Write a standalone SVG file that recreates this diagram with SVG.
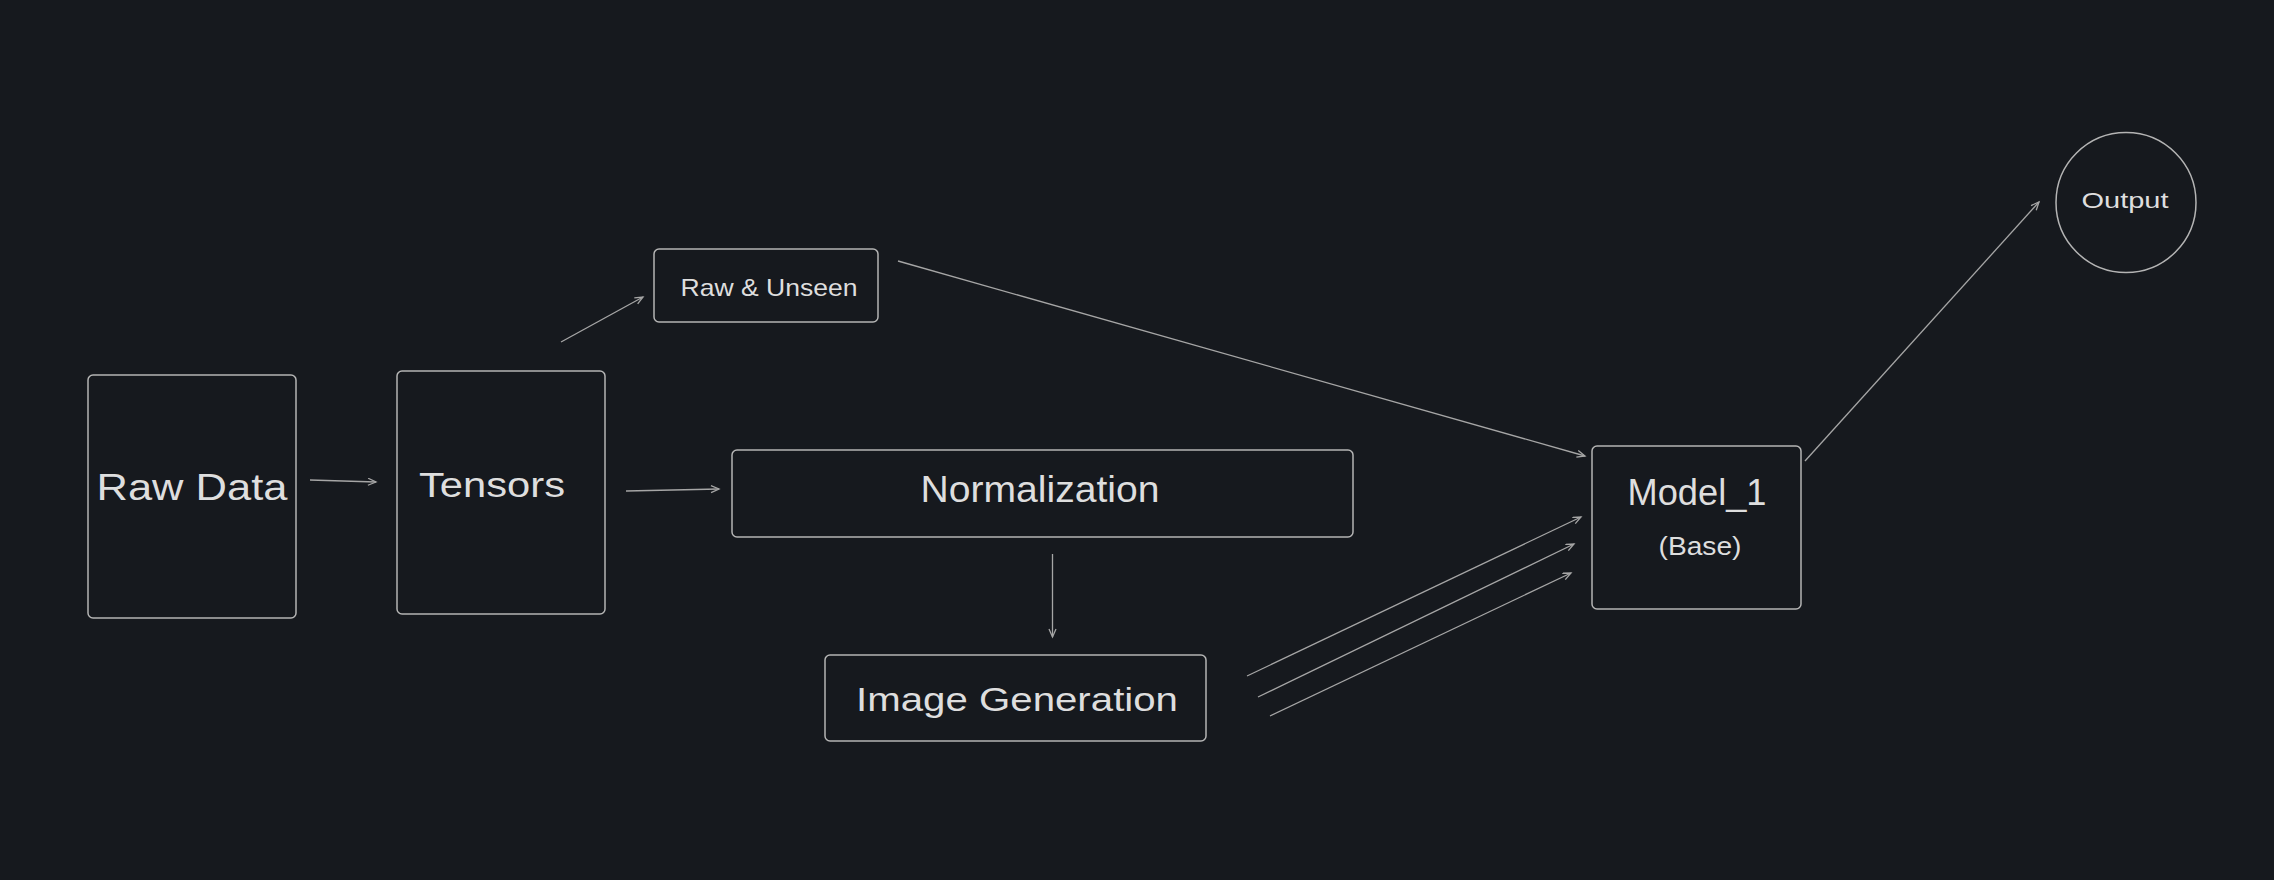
<svg xmlns="http://www.w3.org/2000/svg" width="2274" height="880" viewBox="0 0 2274 880">
<defs>
<style>
.box{fill:none;stroke:#b4b4b4;stroke-width:1.5}
.lbl{fill:#dedede;font-family:"Liberation Sans","DejaVu Sans",sans-serif;text-anchor:middle}
.con{fill:none;stroke:#a6a6a6;stroke-width:1.3}
</style>
<marker id="ah" markerUnits="userSpaceOnUse" markerWidth="12" markerHeight="10" refX="9" refY="4" orient="auto" viewBox="0 0 12 10">
<path d="M1,0.5 L9,4 L1,7.5" fill="none" stroke="#a6a6a6" stroke-width="1.3"/>
</marker>
</defs>
<rect width="2274" height="880" fill="#16191e"/>
<g id="raw-data">
<rect class="box" x="88" y="375" width="208" height="243" rx="5"/>
<text class="lbl" x="192" y="500" font-size="36" textLength="191" lengthAdjust="spacingAndGlyphs">Raw Data</text>
</g>
<g id="tensors">
<rect class="box" x="397" y="371" width="208" height="243" rx="5"/>
<text class="lbl" x="492" y="497" font-size="35" textLength="146" lengthAdjust="spacingAndGlyphs">Tensors</text>
</g>
<g id="raw-unseen">
<rect class="box" x="654" y="249" width="224" height="73" rx="5"/>
<text class="lbl" x="769" y="296" font-size="24" textLength="177" lengthAdjust="spacingAndGlyphs">Raw &amp; Unseen</text>
</g>
<g id="normalization">
<rect class="box" x="732" y="450" width="621" height="87" rx="5"/>
<text class="lbl" x="1040" y="502" font-size="36" textLength="239" lengthAdjust="spacingAndGlyphs">Normalization</text>
</g>
<g id="image-generation">
<rect class="box" x="825" y="655" width="381" height="86" rx="5"/>
<text class="lbl" x="1017" y="711" font-size="34" textLength="322" lengthAdjust="spacingAndGlyphs">Image Generation</text>
</g>
<g id="model-1">
<rect class="box" x="1592" y="446" width="209" height="163" rx="5"/>
<text class="lbl" x="1697" y="505" font-size="36" textLength="139" lengthAdjust="spacingAndGlyphs">Model_1</text>
<text class="lbl" x="1700" y="555" font-size="26" textLength="83" lengthAdjust="spacingAndGlyphs">(Base)</text>
</g>
<g id="output">
<circle class="box" cx="2126" cy="202.5" r="70"/>
<text class="lbl" x="2125" y="208" font-size="22" textLength="87" lengthAdjust="spacingAndGlyphs">Output</text>
</g>
<g id="connectors">
<line class="con" x1="310" y1="480" x2="376" y2="482" marker-end="url(#ah)"/>
<line class="con" x1="626" y1="491" x2="719" y2="489" marker-end="url(#ah)"/>
<line class="con" x1="561" y1="342" x2="643" y2="297" marker-end="url(#ah)"/>
<line class="con" x1="898" y1="261" x2="1585" y2="456" marker-end="url(#ah)"/>
<line class="con" x1="1052.5" y1="554" x2="1052.5" y2="637" marker-end="url(#ah)"/>
<line class="con" x1="1247" y1="676" x2="1581" y2="517" marker-end="url(#ah)"/>
<line class="con" x1="1258" y1="697" x2="1574" y2="544" marker-end="url(#ah)"/>
<line class="con" x1="1270" y1="716" x2="1571" y2="573" marker-end="url(#ah)"/>
<line class="con" x1="1805" y1="461" x2="2039" y2="202" marker-end="url(#ah)"/>
</g>
</svg>
